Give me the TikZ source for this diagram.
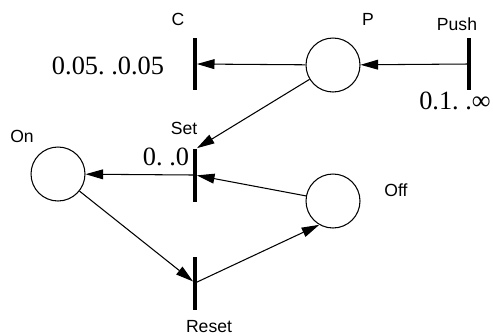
\documentclass[tikz,border=0pt]{standalone}
\usepackage{fontspec}
\setmainfont{Liberation Serif}
\setsansfont{Liberation Sans}
\usetikzlibrary{arrows.meta,positioning}

\begin{document}
\begin{tikzpicture}[x=0.02cm,y=-0.02cm,
    place/.style={circle,draw,line width=0.6pt,minimum size=1.08cm,inner sep=0pt},
    trans/.style={fill=black,inner sep=0pt,minimum width=1.8pt,minimum height=1.06cm},
    lbl/.style={font=\sffamily\fontsize{10}{12}\selectfont},
    times/.style={font=\fontsize{15}{18}\selectfont},
    arc/.style={-{Triangle[length=10pt,width=5.6pt]},line width=0.6pt}]
            \useasboundingbox (0,0) rectangle (493,335);
            % places
            \node[place] (p) at (333,65) {};
            \node[place] (on) at (58,174) {};
            \node[place] (off) at (333,201) {};
            % transitions
            \node[trans] (c) at (195,64) {};
            \node[trans] (push) at (469,64) {};
            \node[trans] (set) at (195,175) {};
            \node[trans] (reset) at (195,283) {};
            % names
            \node[lbl] (pname) at (368,19) {P};
            \node[lbl] (onname) at (22,136) {On};
            \node[lbl] (offname) at (396,190) {Off};
            \node[lbl] (cname) at (178,19) {C};
            \node[lbl] (pushname) at (457,24) {Push};
            \node[lbl] (setname) at (184,128) {Set};
            \node[lbl] (resetname) at (209,327) {Reset};
            % intervals
            \node[times] (ctime) at (108,66) {0.05.\ .0.05};
            \node[times] (pushtime) at (455,101) {0.1.\ .∞};
            \node[times] (settime) at (166,157) {0.\ .0};
            % arcs
            \draw[arc] (push) -- (p);
            \draw[arc] (p) -- (c);
            \draw[arc] (p) -- (set.north east);
            \draw[arc] (off) -- (set);
            \draw[arc] (set.west) -- (on);
            \draw[arc] (on) -- (reset);
            \draw[arc] (reset) -- (off.240);
          \end{tikzpicture}
\end{document}
